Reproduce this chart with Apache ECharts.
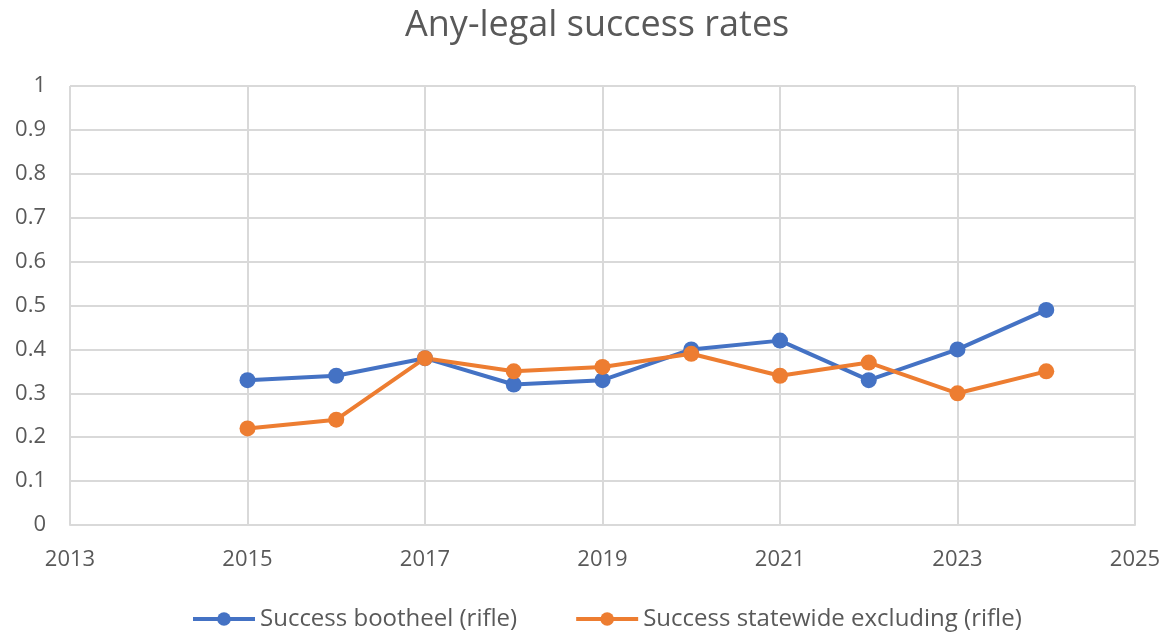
<!DOCTYPE html>
<html>
<head>
<meta charset="utf-8">
<script src="https://cdn.jsdelivr.net/npm/echarts@6/dist/echarts.min.js"></script>
<style>
  html, body { margin: 0; padding: 0; background: #fff; }
  #chart { width: 1169px; height: 638px; }
</style>
</head>
<body>
<div id="chart"></div>
<script>
  // x axis runs 2013..2025, data only 2015..2024
  var years = ['2013', '2014', '2015', '2016', '2017', '2018', '2019', '2020', '2021', '2022', '2023', '2024', '2025'];
  var bootheel = ['-', '-', 0.33, 0.34, 0.38, 0.32, 0.33, 0.40, 0.42, 0.33, 0.40, 0.49, '-'];
  var statewide = ['-', '-', 0.22, 0.24, 0.38, 0.35, 0.36, 0.39, 0.34, 0.37, 0.30, 0.35, '-'];

  var textColor = '#595959';
  var gridColor = '#D9D9D9';
  var font = 'Open Sans, Liberation Sans, sans-serif';

  var chart = echarts.init(document.getElementById('chart'));
  chart.setOption({
    animation: false,
    title: {
      text: 'Any-legal success rates',
      left: 400,
      top: 3,
      textStyle: { color: textColor, fontSize: 36, fontWeight: 'normal', fontFamily: font }
    },
    legend: {
      bottom: 2,
      left: 186,
      itemGap: 57,
      itemWidth: 62,
      itemHeight: 17,
      lineStyle: { width: 4 },
      textStyle: { color: textColor, fontSize: 24, fontFamily: font },
      data: ['Success bootheel (rifle)', 'Success statewide excluding (rifle)']
    },
    grid: { left: 70, right: 34, top: 86, bottom: 113 },
    xAxis: {
      type: 'category',
      data: years,
      boundaryGap: false,
      axisLine: { lineStyle: { color: gridColor, width: 2 } },
      axisTick: { show: false },
      axisLabel: { interval: 1, color: textColor, fontSize: 22, fontFamily: font, margin: 24 },
      splitLine: { show: true, interval: 1, lineStyle: { color: gridColor, width: 2 } }
    },
    yAxis: {
      type: 'value',
      min: 0,
      max: 1,
      interval: 0.1,
      axisLine: { show: false },
      axisTick: { show: false },
      axisLabel: { color: textColor, fontSize: 22, fontFamily: font, margin: 24 },
      splitLine: { lineStyle: { color: gridColor, width: 2 } }
    },
    series: [
      {
        name: 'Success bootheel (rifle)',
        type: 'line',
        data: bootheel,
        symbol: 'circle',
        symbolSize: 16,
        itemStyle: { color: '#4472C4' },
        lineStyle: { color: '#4472C4', width: 4 }
      },
      {
        name: 'Success statewide excluding (rifle)',
        type: 'line',
        data: statewide,
        symbol: 'circle',
        symbolSize: 16,
        itemStyle: { color: '#ED7D31' },
        lineStyle: { color: '#ED7D31', width: 4 }
      }
    ]
  });
</script>
</body>
</html>
